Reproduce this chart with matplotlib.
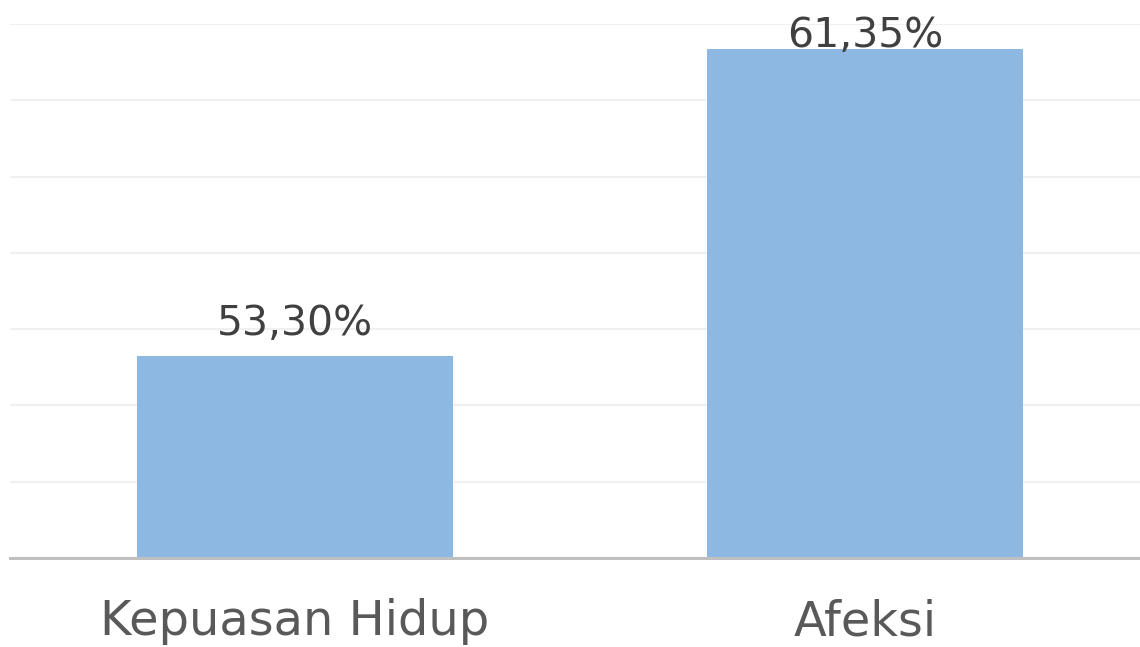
import matplotlib
matplotlib.use("Agg")
import matplotlib.pyplot as plt

categories = ["Kepuasan Hidup", "Afeksi"]
values = [53.30, 61.35]
value_labels = ["53,30%", "61,35%"]

plt.rcParams['font.family'] = ['DejaVu Sans']

fig = plt.figure(figsize=(11.4, 6.47), dpi=100)
ax = fig.add_axes([10 / 1140, 1 - 558 / 647, 1140 / 1140, (558 - 24) / 647])

ymin, ymax = 48, 62
x = range(len(categories))
ax.bar(x, values, width=0.554, color="#8DB8E2", zorder=2)
ax.set_ylim(ymin, ymax)
ax.set_xlim(-0.5, 1.5)

ax.set_yticks(range(ymin, ymax + 1, 2))
ax.yaxis.grid(True, color="#F0F0F0", linewidth=1.5, zorder=0)
ax.tick_params(axis="y", left=False, labelleft=False)
ax.set_xticks(list(x))
ax.set_xticklabels(categories, fontsize=34.5, color="#595959")
ax.tick_params(axis="x", length=0, pad=29)

for s in ["top", "right", "left"]:
    ax.spines[s].set_visible(False)
ax.spines["bottom"].set_color("#BFBFBF")
ax.spines["bottom"].set_linewidth(2.2)
ax.spines["bottom"].set_zorder(3)

for i, (v, lab) in enumerate(zip(values, value_labels)):
    ax.text(i, min(v + 0.55, ymax - 0.6), lab, ha="center", va="baseline",
            fontsize=29.5, color="#404040", zorder=4)

fig.savefig("out.png", dpi=100)
